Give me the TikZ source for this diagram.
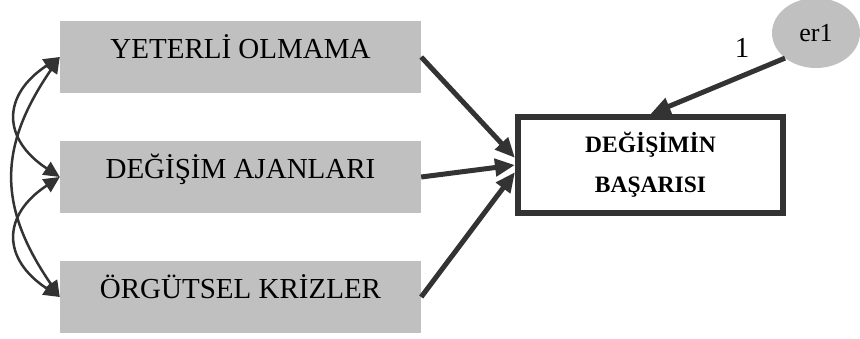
\documentclass[tikz,border=0pt]{standalone}
\usepackage{fontspec}
\setmainfont{Liberation Serif}
\usetikzlibrary{arrows.meta,shapes.geometric}
\definecolor{boxgray}{HTML}{C0C0C0}
\definecolor{ink}{HTML}{333333}
\begin{document}
\begin{tikzpicture}[x=1pt,y=-1pt,
  factor/.style={fill=boxgray, minimum width=361pt, inner sep=0pt,
    text height=37pt, text depth=35pt, font=\fontsize{29}{34}\selectfont},
  outcome/.style={draw=ink, line width=6pt, fill=white, minimum width=265pt,
    minimum height=96pt, align=center, inner sep=0pt,
    font=\bfseries\fontsize{23.5}{40}\selectfont},
  errterm/.style={ellipse, fill=boxgray, minimum width=88pt, minimum height=70pt,
    inner sep=0pt, font=\fontsize{26}{30}\selectfont},
  effect/.style={draw=ink, line width=5pt, -{Triangle[length=20pt,width=17pt]}},
  cov/.style={draw=ink, line width=2.5pt,
    {Triangle[length=16pt,width=15pt]}-{Triangle[length=16pt,width=15pt]}},
  weight/.style={font=\fontsize{29}{34}\selectfont, inner sep=0pt},
]
\useasboundingbox (0,0) rectangle (860,338);

% exogenous variables
\node[factor] (y) at (240.5,57)  {YETERLİ OLMAMA};
\node[factor] (d) at (240.5,177) {DEĞİŞİM AJANLARI};
\node[factor] (o) at (240.5,297) {ÖRGÜTSEL KRİZLER};

% endogenous variable and its error term
\node[outcome] (out) at (650.5,165) {DEĞİŞİMİN\\BAŞARISI};
\node[errterm] (er1) at (816,33) {er1};
\node[weight] (w) at (742,48) {1};

% regression paths
\draw[effect] (y.east) -- (out.177);
\draw[effect] (d.east) -- (out.west);
\draw[effect] (o.east) -- (out.183);
\draw[effect] (er1.219) -- (out.north);

% covariances
\draw[cov] (y.west) .. controls +(-58,38) and +(-58,-38) .. (d.west);
\draw[cov] (d.west) .. controls +(-58,38) and +(-58,-38) .. (o.west);
\draw[cov] (y.west) .. controls +(-62,90) and +(-62,-90) .. (o.west);
\end{tikzpicture}
\end{document}
